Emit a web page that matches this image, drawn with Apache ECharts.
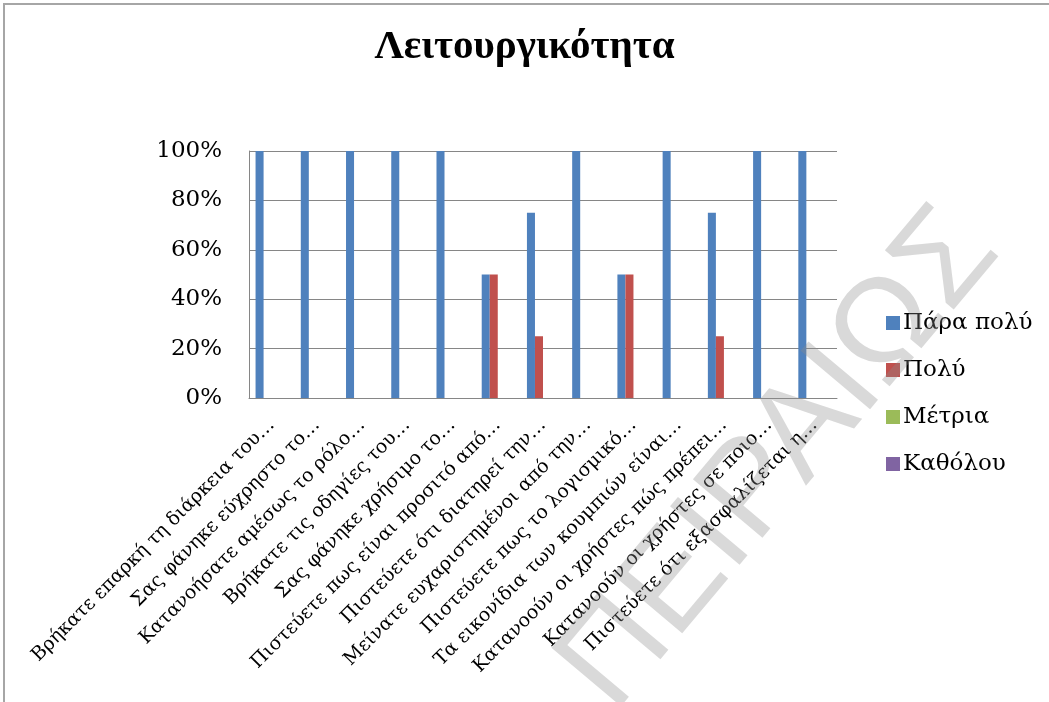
<!DOCTYPE html>
<html>
<head>
<meta charset="utf-8">
<script src="https://cdn.jsdelivr.net/npm/echarts@6/dist/echarts.min.js"></script>
<style>
  html, body { margin: 0; padding: 0; background: #fff; }
  #chart { width: 1049px; height: 702px; }
</style>
</head>
<body>
<div id="chart"></div>
<script>
// questions (x axis)
var questions = [
  'Βρήκατε επαρκή τη διάρκεια του…',
  'Σας φάνηκε εύχρηστο το…',
  'Κατανοήσατε αμέσως το ρόλο…',
  'Βρήκατε τις οδηγίες του…',
  'Σας φάνηκε χρήσιμο το…',
  'Πιστεύετε πως είναι προσιτό από…',
  'Πιστεύετε ότι διατηρεί την…',
  'Μείνατε ευχαριστημένοι από την…',
  'Πιστεύετε πως το λογισμικό…',
  'Τα εικονίδια των κουμπιών είναι…',
  'Κατανοούν οι χρήστες πώς πρέπει…',
  'Κατανοούν οι χρήστες σε ποιο…',
  'Πιστεύετε ότι εξασφαλίζεται η…'
];
var seriesNames = ['Πάρα πολύ', 'Πολύ', 'Μέτρια', 'Καθόλου'];
var paraPoly = [100, 100, 100, 100, 100, 50, 75, 100, 50, 100, 75, 100, 100];
var poly     = [0, 0, 0, 0, 0, 50, 25, 0, 50, 0, 25, 0, 0];
var metria   = [0, 0, 0, 0, 0, 0, 0, 0, 0, 0, 0, 0, 0];
var katholou = [0, 0, 0, 0, 0, 0, 0, 0, 0, 0, 0, 0, 0];
var yTicks = [0, 20, 40, 60, 80, 100];

var colors = ['#4F81BD', '#C0504D', '#9BBB59', '#8064A2'];
var serif = '"DejaVu Serif", "Liberation Serif", serif';
var titleFont = '"Liberation Serif", "DejaVu Serif", serif';

var chart = echarts.init(document.getElementById('chart'));

var allValues = [paraPoly, poly, metria, katholou];
var seriesList = seriesNames.map(function (name, i) {
  return {
    name: name,
    type: 'bar',
    data: allValues[i],
    barGap: '0%',
    barCategoryGap: '29%',
    itemStyle: { color: colors[i] }
  };
});

var option = {
  animation: false,
  backgroundColor: '#fff',
  color: colors,
  title: {
    text: 'Λειτουργικότητα',
    left: 'center',
    top: 22,
    textStyle: { fontFamily: titleFont, fontSize: 41, fontWeight: 'bold', color: '#000' }
  },
  legend: {
    orient: 'vertical',
    left: 881,
    top: 305,
    itemWidth: 14,
    itemHeight: 14,
    itemGap: 21,
    icon: 'rect',
    textStyle: { fontFamily: serif, fontSize: 23, color: '#000', lineHeight: 26, padding: [0, 0, 0, -2] },
    data: seriesNames
  },
  grid: { left: 249, right: 212, top: 151, bottom: 304 },
  xAxis: {
    type: 'category',
    data: questions,
    axisLine: { lineStyle: { color: '#868686', width: 1 } },
    axisTick: { show: false },
    axisLabel: {
      interval: 0,
      rotate: 45,
      margin: 24,
      fontFamily: serif,
      fontSize: 19,
      color: '#000'
    }
  },
  yAxis: {
    type: 'value',
    min: yTicks[0],
    max: yTicks[yTicks.length - 1],
    interval: yTicks[1] - yTicks[0],
    axisLine: { show: true, lineStyle: { color: '#868686', width: 1 } },
    axisTick: { show: false },
    splitLine: { lineStyle: { color: '#868686', width: 1 } },
    axisLabel: {
      formatter: '{value}%',
      margin: 27,
      fontFamily: serif,
      fontSize: 23,
      color: '#000'
    }
  },
  graphic: [
    {
      type: 'rect',
      z: 0,
      shape: { x: 4, y: 4, width: 1200, height: 900 },
      style: { fill: 'none', stroke: '#a6a6a6', lineWidth: 2 }
    },
    {
      // watermark
      type: 'text',
      x: 780,
      y: 460,
      rotation: 50 * Math.PI / 180,
      z: 100,
      style: {
        text: 'ΠΕΙΡΑΙΩΣ',
        x: 0,
        y: 0,
        align: 'center',
        verticalAlign: 'middle',
        fill: 'rgba(140,140,140,0.33)',
        font: '132px "Liberation Sans", Arial, sans-serif'
      }
    }
  ],
  series: seriesList
};

chart.setOption(option);
</script>
</body>
</html>
